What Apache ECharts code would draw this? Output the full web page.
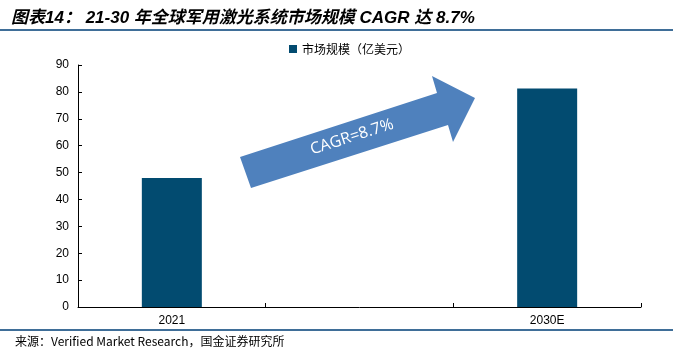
<!DOCTYPE html>
<html>
<head>
<meta charset="utf-8">
<script src="https://cdn.jsdelivr.net/npm/echarts@6/dist/echarts.min.js"></script>
<style>html,body{margin:0;padding:0;background:#fff;}#c{width:673px;height:354px;}</style>
</head>
<body>
<div id="c"></div>
<script>
const categories = ['2021', '', '2030E'];
const marketSize = [48.0, null, 81.3];
const seriesName = '市场规模（亿美元）';
const yTicks = { min: 0, max: 90, interval: 10 };

const chart = echarts.init(document.getElementById('c'), null, { renderer: 'canvas' });
const latin = 'Liberation Sans, Arial, "Noto Sans CJK SC", sans-serif';
chart.setOption({
  animation: false,
  backgroundColor: '#fff',
  title: {
    text: '图表14： 21-30 年全球军用激光系统市场规模 CAGR 达 8.7%',
    left: 6, top: 5,
    textStyle: { fontSize: 17, fontWeight: 'bold', fontStyle: 'italic', color: '#000', fontFamily: latin }
  },
  legend: {
    data: [seriesName],
    left: 284, top: 38,
    icon: 'rect', itemWidth: 8, itemHeight: 8, itemGap: 4,
    textStyle: { fontSize: 12, color: '#000', fontFamily: '"Noto Sans CJK SC", sans-serif' }
  },
  grid: { left: 78, right: 32, top: 65, bottom: 47, containLabel: false },
  xAxis: {
    type: 'category', data: categories,
    axisLine: { lineStyle: { color: '#000', width: 1 } },
    axisTick: { show: true, inside: true, length: 4, lineStyle: { color: '#000' } },
    axisLabel: { color: '#000', fontSize: 12, margin: 8, fontFamily: latin }
  },
  yAxis: {
    type: 'value', min: yTicks.min, max: yTicks.max, interval: yTicks.interval,
    axisLine: { show: true, lineStyle: { color: '#000', width: 1 } },
    axisTick: { show: true, inside: true, length: 4, lineStyle: { color: '#000' } },
    splitLine: { show: false },
    axisLabel: { color: '#000', fontSize: 12, margin: 9, fontFamily: latin }
  },
  series: [{
    name: seriesName, type: 'bar', data: marketSize, barWidth: 60,
    itemStyle: { color: '#024B70' }
  }],
  graphic: [
    { type: 'line', shape: { x1: 0, y1: 30, x2: 673, y2: 30 }, style: { stroke: '#3f6e98', lineWidth: 2 } },
    { type: 'line', shape: { x1: 0, y1: 330, x2: 673, y2: 330 }, style: { stroke: '#3f6e98', lineWidth: 2 } },
    { type: 'polygon', shape: { points: [[251, 188], [240, 157], [437, 93], [432, 76], [475, 98], [453, 142], [448, 125]] },
      style: { fill: '#4f81bd' } },
    { type: 'text', x: 352, y: 137, rotation: 0.31,
      style: { text: 'CAGR=8.7%', fill: '#fff', fontSize: 16, fontFamily: '"Open Sans", Liberation Sans, sans-serif', align: 'center', verticalAlign: 'middle' } },
    { type: 'text', left: 15, top: 335,
      style: { text: '来源：Verified Market Research，国金证券研究所', fill: '#000', fontSize: 12, fontFamily: '"Noto Sans CJK SC", Liberation Sans, sans-serif' } }
  ]
});
</script>
</body>
</html>
